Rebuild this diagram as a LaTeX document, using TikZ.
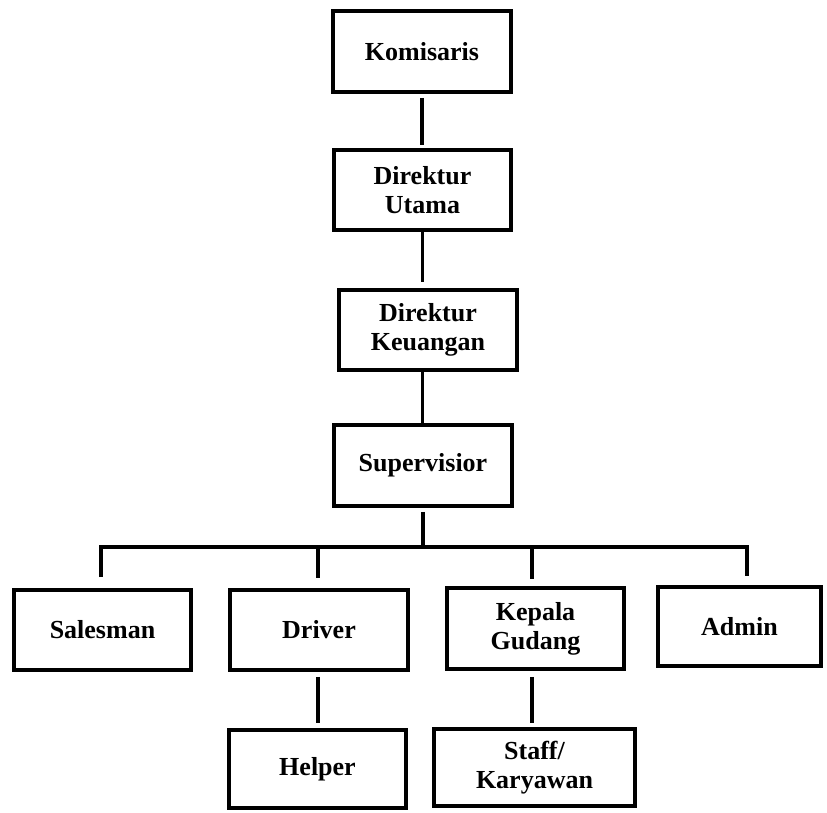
\documentclass[tikz,border=0pt]{standalone}
\usepackage{fontspec}
\setmainfont{Liberation Serif}
\begin{document}
\begin{tikzpicture}[x=1pt,y=1pt,
  box/.style={draw, line width=3.6pt, rectangle, inner sep=0pt, align=center,
    font=\fontsize{26}{29}\selectfont\bfseries},
  conn/.style={line width=3.6pt}]
\useasboundingbox (0,0) rectangle (827,-812);
% nodes (centre, width, height in px)
\node[box, minimum width=178, minimum height=81] (kom) at (422,-51.5) {Komisaris};
\node[box, minimum width=177, minimum height=80] (du) at (422.5,-190) {Direktur\\Utama};
\node[box, minimum width=178, minimum height=80] (dk) at (428,-330) {Direktur\\Keuangan};
\node[box, minimum width=178, minimum height=81] (sup) at (423,-465.5) {Supervisior};
\node[box, minimum width=177, minimum height=80] (sal) at (102.5,-630) {Salesman};
\node[box, minimum width=178, minimum height=80] (drv) at (319,-630) {Driver};
\node[box, minimum width=177, minimum height=81] (kg) at (535.5,-628.5) {Kepala\\Gudang};
\node[box, minimum width=163, minimum height=79] (adm) at (739.5,-626.5) {Admin};
\node[box, minimum width=177, minimum height=78] (hlp) at (317.5,-769) {Helper};
\node[box, minimum width=201, minimum height=77] (stf) at (534.5,-767.5) {Staff/\\Karyawan};
% bus coordinates
\coordinate (busL) at (101,-547);
\coordinate (busR) at (747,-547);
\coordinate (bD) at (318,-547);
\coordinate (bK) at (532,-547);
% connectors
\draw[conn, shorten <=4pt, shorten >=3pt] (kom.south) -- (kom.south |- du.north);
\draw[conn, shorten >=6pt] (du.south) -- (du.south |- dk.north);
\draw[conn] (dk.south -| du.south) -- (du.south |- sup.north);
\draw[conn, shorten <=4pt] (sup.south) -- (sup.south |- busL);
\draw[conn, shorten <=11pt, shorten >=9pt] (sal.north -| busL) -- (busL) -- (busR) -- (adm.north -| busR);
\draw[conn, shorten >=10pt] (bD) -- (bD |- drv.north);
\draw[conn, shorten >=7pt] (bK) -- (bK |- kg.north);
\draw[conn, shorten <=5pt, shorten >=5pt] (drv.south -| bD) -- (bD |- hlp.north);
\draw[conn, shorten <=6pt, shorten >=4pt] (kg.south -| bK) -- (bK |- stf.north);
\end{tikzpicture}
\end{document}
